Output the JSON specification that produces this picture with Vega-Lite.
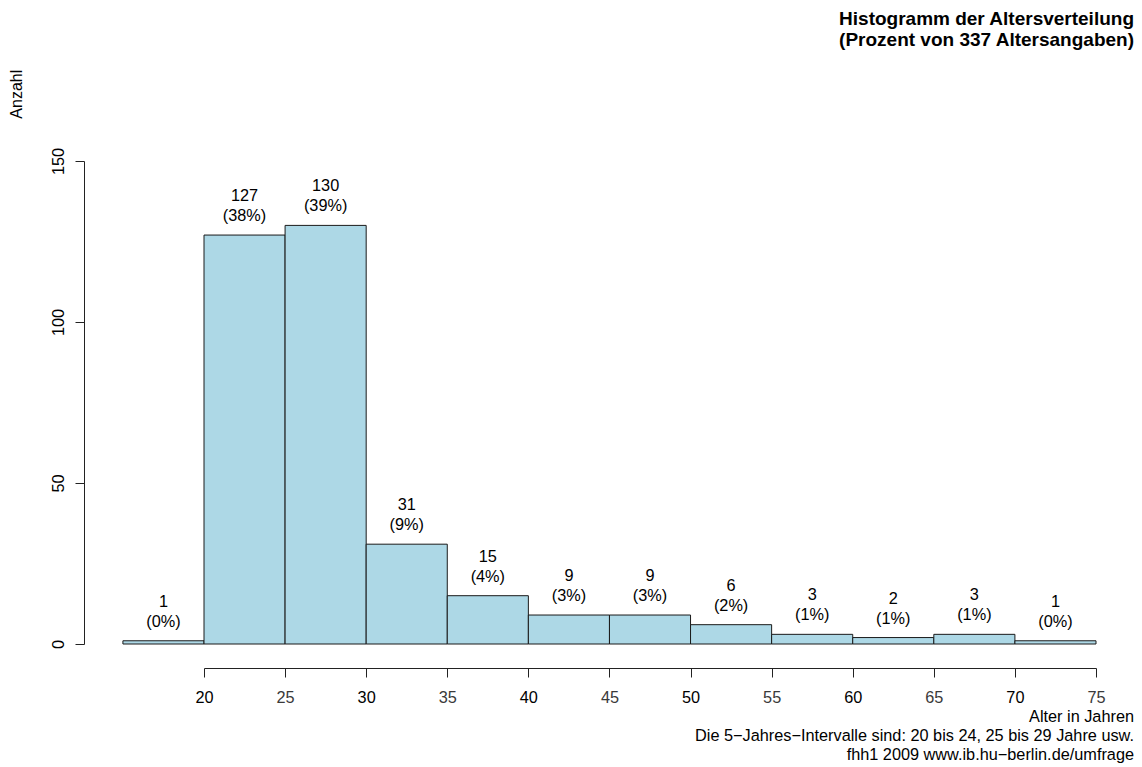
{
  "$schema": "https://vega.github.io/schema/vega-lite/v6.json",
  "width": 892,
  "height": 483,
  "autosize": {"type": "none"},
  "padding": {"left": 204, "top": 161, "right": 46, "bottom": 123},
  "background": "white",
  "config": {"view": {"stroke": null}, "font": "Liberation Sans"},
  "title": {
    "text": ["Histogramm der Altersverteilung", "(Prozent von 337 Altersangaben)"],
    "anchor": "end",
    "frame": "group",
    "orient": "top",
    "fontSize": 19,
    "fontWeight": "bold",
    "font": "Liberation Sans",
    "color": "#000",
    "lineHeight": 21,
    "baseline": "alphabetic",
    "offset": 4.5,
    "dx": 38
  },
  "data": {
    "values": [
      {"start": 15, "end": 20, "mid": 17.5, "count": 1, "label": "1\n(0%)"},
      {"start": 20, "end": 25, "mid": 22.5, "count": 127, "label": "127\n(38%)"},
      {"start": 25, "end": 30, "mid": 27.5, "count": 130, "label": "130\n(39%)"},
      {"start": 30, "end": 35, "mid": 32.5, "count": 31, "label": "31\n(9%)"},
      {"start": 35, "end": 40, "mid": 37.5, "count": 15, "label": "15\n(4%)"},
      {"start": 40, "end": 45, "mid": 42.5, "count": 9, "label": "9\n(3%)"},
      {"start": 45, "end": 50, "mid": 47.5, "count": 9, "label": "9\n(3%)"},
      {"start": 50, "end": 55, "mid": 52.5, "count": 6, "label": "6\n(2%)"},
      {"start": 55, "end": 60, "mid": 57.5, "count": 3, "label": "3\n(1%)"},
      {"start": 60, "end": 65, "mid": 62.5, "count": 2, "label": "2\n(1%)"},
      {"start": 65, "end": 70, "mid": 67.5, "count": 3, "label": "3\n(1%)"},
      {"start": 70, "end": 75, "mid": 72.5, "count": 1, "label": "1\n(0%)"}
    ]
  },
  "layer": [
    {
      "mark": {"type": "bar", "fill": "#ADD8E6", "stroke": "#1a1a1a", "strokeWidth": 1},
      "encoding": {
        "x": {
          "field": "start",
          "type": "quantitative",
          "scale": {"domain": [20, 75], "nice": false, "zero": false},
          "axis": {
            "values": [20, 25, 30, 35, 40, 45, 50, 55, 60, 65, 70, 75],
            "format": "d",
            "offset": 24,
            "grid": false,
            "domainColor": "#222",
            "tickColor": "#222",
            "tickSize": 9,
            "labelPadding": 12,
            "labelFontSize": 16.3,
            "labelFont": "Liberation Sans",
            "labelColor": {"condition": {"test": "datum.value % 10 === 0", "value": "#000"}, "value": "#3a3a3a"},
            "labelFlush": false,
            "labelOverlap": false,
            "title": ["Alter in Jahren", "Die 5−Jahres−Intervalle sind: 20 bis 24, 25 bis 29 Jahre usw.", "fhh1 2009 www.ib.hu−berlin.de/umfrage"],
            "titleX": 929.5,
            "titleY": 53.5,
            "titleAlign": "right",
            "titleAnchor": "end",
            "titleBaseline": "alphabetic",
            "titleFontSize": 16.3,
            "titleFontWeight": "normal",
            "titleFont": "Liberation Sans",
            "titleColor": "#000",
            "titleLineHeight": 19
          }
        },
        "x2": {"field": "end"},
        "y": {
          "field": "count",
          "type": "quantitative",
          "scale": {"domain": [0, 150], "nice": false},
          "axis": {
            "values": [0, 50, 100, 150],
            "offset": 120,
            "grid": false,
            "domainColor": "#222",
            "tickColor": "#222",
            "tickSize": 9,
            "labelAngle": -90,
            "labelAlign": "center",
            "labelBaseline": "bottom",
            "labelPadding": 9,
            "labelFontSize": 16.3,
            "labelFont": "Liberation Sans",
            "labelColor": "#000",
            "title": "Anzahl",
            "titleX": -62.8,
            "titleY": -67.3,
            "titleAngle": -90,
            "titleAlign": "center",
            "titleBaseline": "alphabetic",
            "titleFontSize": 16,
            "titleFontWeight": "normal",
            "titleFont": "Liberation Sans",
            "titleColor": "#000"
          }
        },
        "y2": {"datum": 0}
      }
    },
    {
      "mark": {"type": "text", "lineBreak": "\n", "baseline": "alphabetic", "dy": -34, "fontSize": 16.3, "font": "Liberation Sans", "color": "#000", "lineHeight": 20},
      "encoding": {
        "x": {"field": "mid", "type": "quantitative"},
        "y": {"field": "count", "type": "quantitative"},
        "text": {"field": "label"}
      }
    }
  ]
}
